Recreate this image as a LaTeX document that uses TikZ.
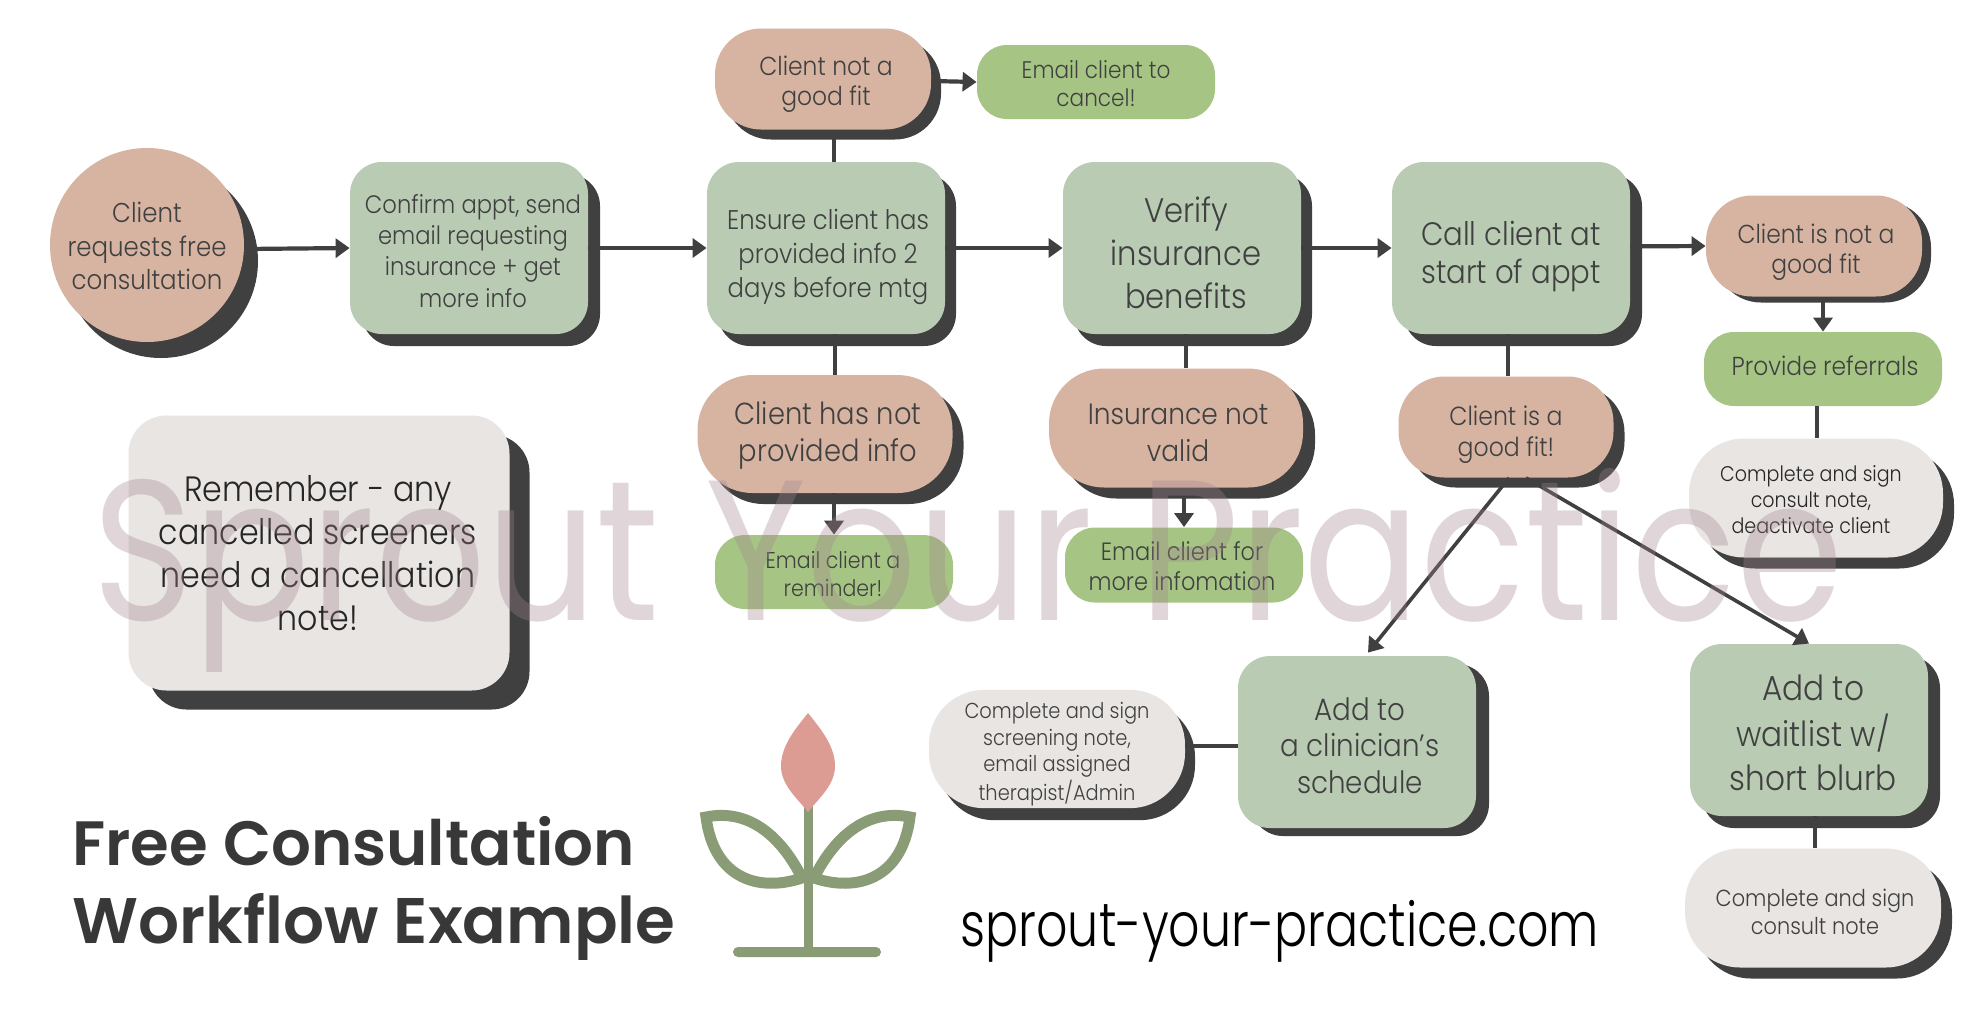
\documentclass[tikz,border=0pt]{standalone}
\usepackage{fontspec}
\usetikzlibrary{shadows,arrows.meta}
\setmainfont{Poppins}[UprightFont=* Light,FakeStretch=0.9]
\newfontfamily\titlef{Poppins}[UprightFont=* SemiBold,FakeStretch=1.0]
\newfontfamily\urlf{Poppins}[UprightFont=* Light,FakeStretch=0.8]
\newfontfamily\markf{Poppins}[FakeStretch=0.865]
\definecolor{peach}{HTML}{D6B4A1}
\definecolor{sage}{HTML}{B9CBB3}
\definecolor{lime}{HTML}{A6C585}
\definecolor{pale}{HTML}{E8E5E3}
\definecolor{dk}{HTML}{404040}
\definecolor{stem}{HTML}{8A9C76}
\definecolor{bud}{HTML}{DC9C93}
\definecolor{mark}{HTML}{A1838C}
\newcommand{\fs}[2]{\fontsize{#1}{#2}\selectfont}
% \tx{dx}{dy}{lines}: moves the lines dx, dy reference pixels right and down inside their shape
\newcommand{\tx}[3]{\vbox{\kern\dimexpr#2pt+4.5pt\relax\hbox{\kern#1pt\begin{tabular}{@{}c@{}}#3\end{tabular}}}}
\tikzset{
  x=0.5pt,y=-0.5pt,
  card/.style n args={3}{rectangle,minimum width=#1*0.5pt,minimum height=#2*0.5pt,rounded corners=#3*0.5pt,inner sep=0pt,align=center,text=dk},
  shade off/.style 2 args={general shadow={shadow xshift=#1*0.5pt,shadow yshift=-#2*0.5pt,fill=dk}},
  flow/.style={draw=dk,line width=2.1pt},
  arr/.style={flow,-{Triangle[length=7pt,width=9.5pt]}},
  plant/.style={draw=stem,line width=5.5pt}
}
\begin{document}
\begin{tikzpicture}
\useasboundingbox (0,0) rectangle (1986,1024);
\fill[white] (0,0) rectangle (1986,1024);
% row one
\node[circle,minimum size=97pt,inner sep=0pt,align=center,text=dk,fill=peach,shade off={14}{16},font=\fs{13.6}{16.8}] (req) at (147,245) {\tx{0}{0}{Client\\requests free\\consultation}};
\node[card={238}{172}{32},fill=sage,shade off={12}{12},font=\fs{12.6}{15.6}] (confirm) at (469,248) {\tx{4}{1.5}{Confirm appt, send\\email requesting\\insurance + get\\more info}};
\node[card={238}{172}{32},fill=sage,shade off={11}{12},font=\fs{13.5}{17.1}] (ensure) at (826,248) {\tx{2}{4}{Ensure client has\\provided info 2\\days before mtg}};
\node[card={238}{172}{32},fill=sage,shade off={11}{12},font=\fs{17}{21.5}] (verify) at (1182,248) {\tx{4}{4}{Verify\\insurance\\benefits}};
\node[card={238}{172}{32},fill=sage,shade off={12}{12},font=\fs{16.2}{19}] (call) at (1511,248) {\tx{0}{4}{Call client at\\start of appt}};
\node[card={216}{101}{46},fill=peach,shade off={9}{6},font=\fs{13}{15.2}] (notfit2) at (1814,246) {\tx{2}{2}{Client is not a\\good fit}};
% top
\node[card={216}{101}{46},fill=peach,shade off={10}{10},font=\fs{13}{15.2}] (notfit) at (823,79) {\tx{3}{1}{Client not a\\good fit}};
\node[card={238}{74}{30},fill=lime,font=\fs{12}{14}] (cancel) at (1096,82) {\tx{0}{0}{Email client to\\cancel!}};
% second row
\node[card={255}{118}{55},fill=peach,shade off={11}{11},font=\fs{15.2}{18.4}] (noinfo) at (825,434) {\tx{3}{-3}{Client has not\\provided info}};
\node[card={238}{74}{30},fill=lime,font=\fs{11.4}{14}] (remind) at (834,572) {\tx{-1}{0}{Email client a\\reminder!}};
\node[card={254}{119}{55},fill=peach,shade off={12}{11},font=\fs{14.7}{18.4}] (invalid) at (1176,428) {\tx{2}{3}{Insurance not\\valid}};
\node[card={238}{75}{30},fill=lime,font=\fs{12.5}{14.9}] (moreinfo) at (1184,565) {\tx{-2}{0}{Email client for\\more infomation}};
\node[card={215}{101}{46},fill=peach,shade off={11}{10},font=\fs{13.1}{15.8}] (goodfit) at (1506,427) {\tx{0}{3}{Client is a\\good fit!}};
\node[card={238}{74}{30},fill=lime,font=\fs{13}{15}] (refer) at (1823,369) {\tx{2}{-4}{Provide referrals}};
\node[card={254}{119}{55},fill=pale,shade off={11}{11},text=black!85,font=\fs{10.6}{13}] (note1) at (1816,498) {\tx{-5}{0}{Complete and sign\\consult note,\\deactivate client}};
% remember
\node[card={381}{275}{38},fill=pale,text=black!85,shade off={20}{19},font=\fs{17.6}{21.5}] (remember) at (319,553) {\tx{-1}{0}{Remember - any\\cancelled screeners\\need a cancellation\\note!}};
% bottom
\node[card={238}{172}{32},fill=sage,shade off={13}{8},font=\fs{15.4}{18.4}] (clin) at (1357,742) {\tx{3}{3}{Add to\\a clinician's\\schedule}};
\node[card={256}{118}{55},fill=pale,shade off={10}{12},font=\fs{10.8}{13.4}] (note2) at (1057,749) {\tx{0}{0.3}{Complete and sign\\screening note,\\email assigned\\therapist/Admin}};
\node[card={238}{172}{32},fill=sage,shade off={12}{12},font=\fs{17.3}{21.8}] (wait) at (1809,730) {\tx{4}{2.3}{Add to\\waitlist w/\\short blurb}};
\node[card={256}{119}{55},fill=pale,shade off={11}{11},font=\fs{11.6}{14}] (note3) at (1813,908) {\tx{2}{2.3}{Complete and sign\\consult note}};
% connectors
\draw[arr] ([yshift=-2pt]req.east) -- (confirm.west);
\draw[arr] (confirm.east) -- (ensure.west);
\draw[arr] (ensure.east) -- (verify.west);
\draw[arr] (verify.east) -- (call.west);
\draw[arr] ([yshift=0.8pt]call.east) -- (notfit2.west);
\draw[arr] ([yshift=-1pt]notfit.east) -- (cancel.west);
\draw[flow] ([xshift=5.5pt]notfit.south) -- ([xshift=4pt]ensure.north);
\draw[flow] ([xshift=4.5pt]ensure.south) -- ([xshift=5pt]noinfo.north);
\draw[arr] ([xshift=4.5pt]noinfo.south) -- (remind.north);
\draw[flow] ([xshift=1.8pt]verify.south) -- ([xshift=4.8pt]invalid.north);
\draw[arr] ([xshift=4pt]invalid.south) -- (moreinfo.north);
\draw[flow] ([xshift=-1.5pt]call.south) -- ([xshift=1pt]goodfit.north);
\draw[arr] ([xshift=4.5pt]notfit2.south) -- (refer.north);
\draw[flow] ([xshift=-3pt]refer.south) -- ([xshift=.5pt]note1.north);
\draw[arr,line width=1.8pt] ([xshift=1.5pt]goodfit.south) -- ([shift={(5.5pt,1.5pt)}]clin.north);
\draw[arr,line width=1.8pt] ([xshift=10pt]goodfit.south) -- (wait.north);
\draw[flow] ([yshift=1.5pt]note2.east) -- ([yshift=-2pt]clin.west);
\draw[flow] ([xshift=3pt]wait.south) -- ([xshift=1pt]note3.north);
% titles
\node[anchor=base west,inner sep=0pt,text=black!78,font=\titlef\fs{31.3}{32}] (t1) at (72,865) {Free Consultation};
\node[anchor=base west,inner sep=0pt,text=black!78,font=\titlef\fs{32.2}{32}] (t2) at (72,943) {Workflow Example};
\node[anchor=base west,inner sep=0pt,text=black,font=\urlf\fs{30.7}{30.7}] (url) at (960,946) {sprout-your-practice.com};
% plant
\fill[stem,rounded corners=2.5pt] (733,947) rectangle (881,957);
\draw[plant,line width=4.5pt] (808,805) -- (808,950);
\draw[plant,miter limit=3] (706,817) .. controls (750,808) and (782,838) .. (802,878) .. controls (760,892) and (714,880) .. (706,817) -- cycle;
\draw[plant,miter limit=3] (910,817) .. controls (866,808) and (834,838) .. (814,878) .. controls (856,892) and (902,880) .. (910,817) -- cycle;
\fill[bud] (808,713) .. controls (797,727) and (781,745) .. (781,766) .. controls (781,785) and (797,798) .. (808,812) .. controls (819,798) and (835,785) .. (835,766) .. controls (835,745) and (819,727) .. (808,713) -- cycle;
% watermark
\node[anchor=base west,inner sep=0pt,text=mark,text opacity=0.33,font=\markf\fs{100}{100}] (wm) at (92,620) {Sprout Your Practice};
\end{tikzpicture}
\end{document}
